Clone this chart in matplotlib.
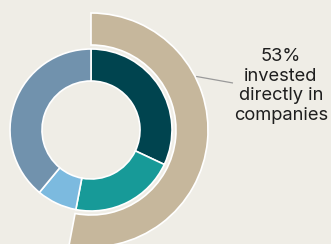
import numpy as np
import matplotlib
matplotlib.use('Agg')
from matplotlib import pyplot as plt

# Data
inner_labels = ['Direct A', 'Direct B', 'Other', 'Funds']
inner_values = [32, 21, 8, 39]
inner_colors = ['#00444f', '#179a98', '#7cbadf', '#7192ad']

outer_values = [53, 47]
outer_colors = ['#c6b79c', 'none']
label_text = '53%\ninvested\ndirectly in\ncompanies'

bg = '#efede6'

fig = plt.figure(figsize=(3.31, 2.44), dpi=100)
fig.patch.set_facecolor(bg)
ax = fig.add_axes([0, 0, 1, 1])
ax.set_facecolor(bg)

cx, cy = 91, 114

# Outer ring (only the 53% slice is visible)
outer, _ = ax.pie(outer_values, colors=outer_colors, startangle=90, counterclock=False,
                  radius=117, center=(cx, cy), frame=True,
                  wedgeprops=dict(width=32, edgecolor='white', linewidth=1.2))
outer[1].set_edgecolor('none')

# Inner ring
ax.pie(inner_values, colors=inner_colors, startangle=90, counterclock=False,
       radius=81, center=(cx, cy), frame=True,
       wedgeprops=dict(width=32, edgecolor='white', linewidth=1.2))

ax.set_xlim(0, 331)
ax.set_ylim(0, 244)
ax.set_aspect('equal')
ax.axis('off')

# Leader line from the outer ring to the label
ang = np.deg2rad(27)
x0, y0 = cx + 118 * np.cos(ang), cy + 118 * np.sin(ang)
ax.plot([x0, 233], [y0, 161], color='#9a9a9a', lw=0.9, solid_capstyle='butt')

ax.text(281, 158, label_text, ha='center', va='center', fontsize=13.2,
        family='Inter', color='#1e1e1e', linespacing=1.2)

plt.savefig('out.png', dpi=100, facecolor=bg)
